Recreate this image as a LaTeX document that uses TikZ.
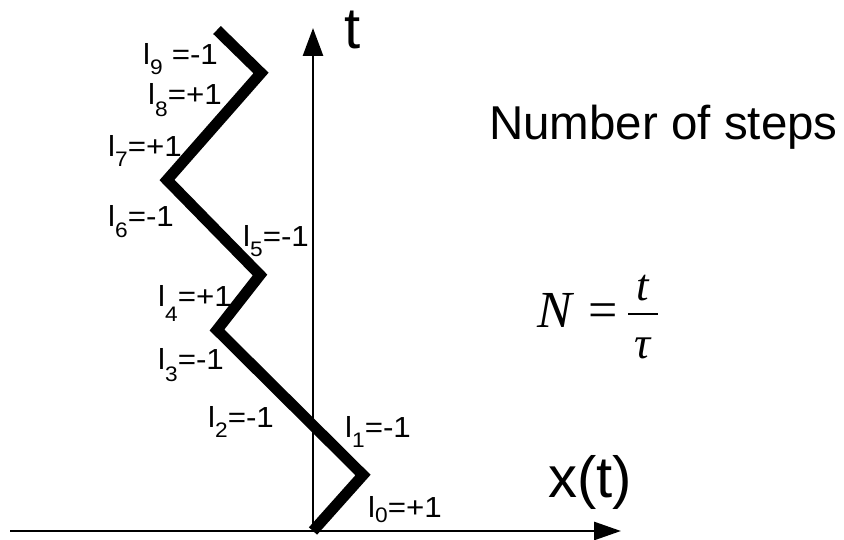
\documentclass[tikz,border=0pt]{standalone}
\usepackage{fontspec}
\setmainfont{Liberation Sans}
\newfontfamily\lblfont[FakeStretch=1.08]{Liberation Sans}
\newfontfamily\frmfont{Liberation Serif}
\usetikzlibrary{arrows.meta}
\newcommand{\steplab}[3]{l\raisebox{-#2pt}{\fontsize{21}{21}\selectfont #1}#3}
\tikzset{
  axis/.style={line width=2.8pt},
  walk/.style={line width=11pt, line join=miter, line cap=butt},
  lbl/.style={anchor=base west, inner sep=0pt, font=\lblfont\fontsize{29}{29}\selectfont},
  biglbl/.style={anchor=base west, inner sep=0pt, font=\fontsize{58}{58}\selectfont},
  frm/.style={inner sep=0pt, font=\frmfont\itshape\fontsize{52}{52}\selectfont},
  frmsmall/.style={inner sep=0pt, anchor=base, font=\frmfont\itshape\fontsize{45}{45}\selectfont}
}
\begin{document}
\begin{tikzpicture}[x=1pt,y=-1pt]
\useasboundingbox (0,0) rectangle (844,540);
% axes
\coordinate (o) at (313,531);
\coordinate (xl) at (10,531);
\coordinate (xr) at (621,531);
\coordinate (ty) at (313,28);
\draw[axis] (xl) -- (o);
\draw[axis,-{Triangle[length=27pt,width=18pt]}] (o) -- (xr);
\draw[axis,-{Triangle[length=28pt,width=20pt]}] (o) -- (ty);
% axis labels
\node[biglbl] (tl) at (344,49) {t};
\node[biglbl] (xtl) at (548,497) {x(t)};
\node[anchor=base west, inner sep=0pt, font=\fontsize{47.5}{47.5}\selectfont] (nos) at (489,140) {Number of steps};
% formula
\node[frm, anchor=base west] (fN) at (537,327) {N};
\node[frm, anchor=base, font=\frmfont\fontsize{52}{52}\selectfont] (feq) at (603,327) {=};
\coordinate (barl) at (628,314);
\coordinate (barr) at (658,314);
\draw[line width=2.2pt] (barl) -- (barr);
\node[frmsmall] (fnum) at (643,301) {t};
\node[frmsmall] (fden) at (643,359) {τ};
% step labels
\node[lbl] (l9) at (143,65) {\steplab{9}{10}{\hspace{9pt}=-1}};
\node[lbl] (l8) at (148,105) {\steplab{8}{12}{=+1}};
\node[lbl] (l7) at (108,157) {\steplab{7}{10}{=+1}};
\node[lbl] (l6) at (108,227) {\steplab{6}{11}{=-1}};
\node[lbl] (l5) at (243,247) {\steplab{5}{10}{=-1}};
\node[lbl] (l4) at (158,307) {\steplab{4}{14}{=+1}};
\node[lbl] (l3) at (158,370) {\steplab{3}{12}{=-1}};
\node[lbl] (l2) at (208,427) {\steplab{2}{10}{=-1}};
\node[lbl] (l1) at (345,437) {\steplab{1}{10}{=-1}};
\node[lbl] (l0) at (368,517) {\steplab{0}{5}{=+1}};
% walk
\coordinate (p0) at (313,531);
\coordinate (p1) at (363,475);
\coordinate (p2) at (217,330);
\coordinate (p3) at (260,275);
\coordinate (p4) at (167,180);
\coordinate (p5) at (261,73);
\coordinate (p6) at (217,30);
\draw[walk] (p0) -- (p1) -- (p2) -- (p3) -- (p4) -- (p5) -- (p6);
\end{tikzpicture}
\end{document}
